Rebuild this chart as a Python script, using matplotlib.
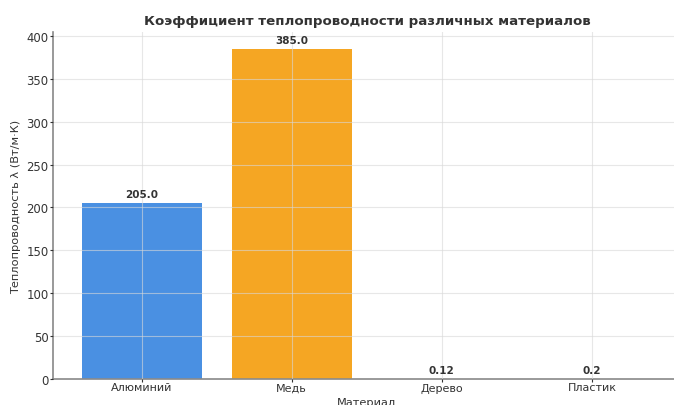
import matplotlib
matplotlib.use("Agg")
import matplotlib.pyplot as plt

materials = ["Алюминий", "Медь", "Дерево", "Пластик"]
conductivity = [205.0, 385.0, 0.12, 0.2]
colors = ["#4A90E2", "#F5A623", "#7ED321", "#D0021B"]

plt.rcParams['font.family'] = ['DejaVu Sans']
fig = plt.figure(figsize=(6.74, 4.06), dpi=100)
ax = fig.add_axes([53/674, 26/406, (680.5-53)/674, (380-33.3)/406])

bars = ax.bar(materials, conductivity, color=colors, width=0.8)
for b, v in zip(bars, conductivity):
    ax.text(b.get_x() + b.get_width()/2, b.get_height() + 5, str(v),
            ha='center', va='bottom', fontsize=7.5, fontweight='bold', color='#333333')

fig.text(367/674, 1 - 22/406, "Коэффициент теплопроводности различных материалов",
         fontsize=9.6, fontweight='bold', color='#333333', ha='center', va='center')
ax.set_xlabel("Материал", fontsize=8.2, color='#333333', labelpad=3)
ax.set_ylabel("Теплопроводность λ (Вт/м·К)", fontsize=8.2, color='#333333', labelpad=4)
ax.tick_params(axis='x', labelsize=8, colors='#333333', length=2, pad=0.5)
ax.tick_params(axis='y', labelsize=8.4, colors='#333333', length=2, pad=1.3)
ax.grid(True, color='#d8d8d8', linewidth=0.8, alpha=0.6)
ax.set_axisbelow(False)
for s in ['top', 'right']:
    ax.spines[s].set_visible(False)
for s in ['left', 'bottom']:
    ax.spines[s].set_color('#888888')
    ax.spines[s].set_linewidth(1.2)

fig.savefig("out.png", dpi=100)
